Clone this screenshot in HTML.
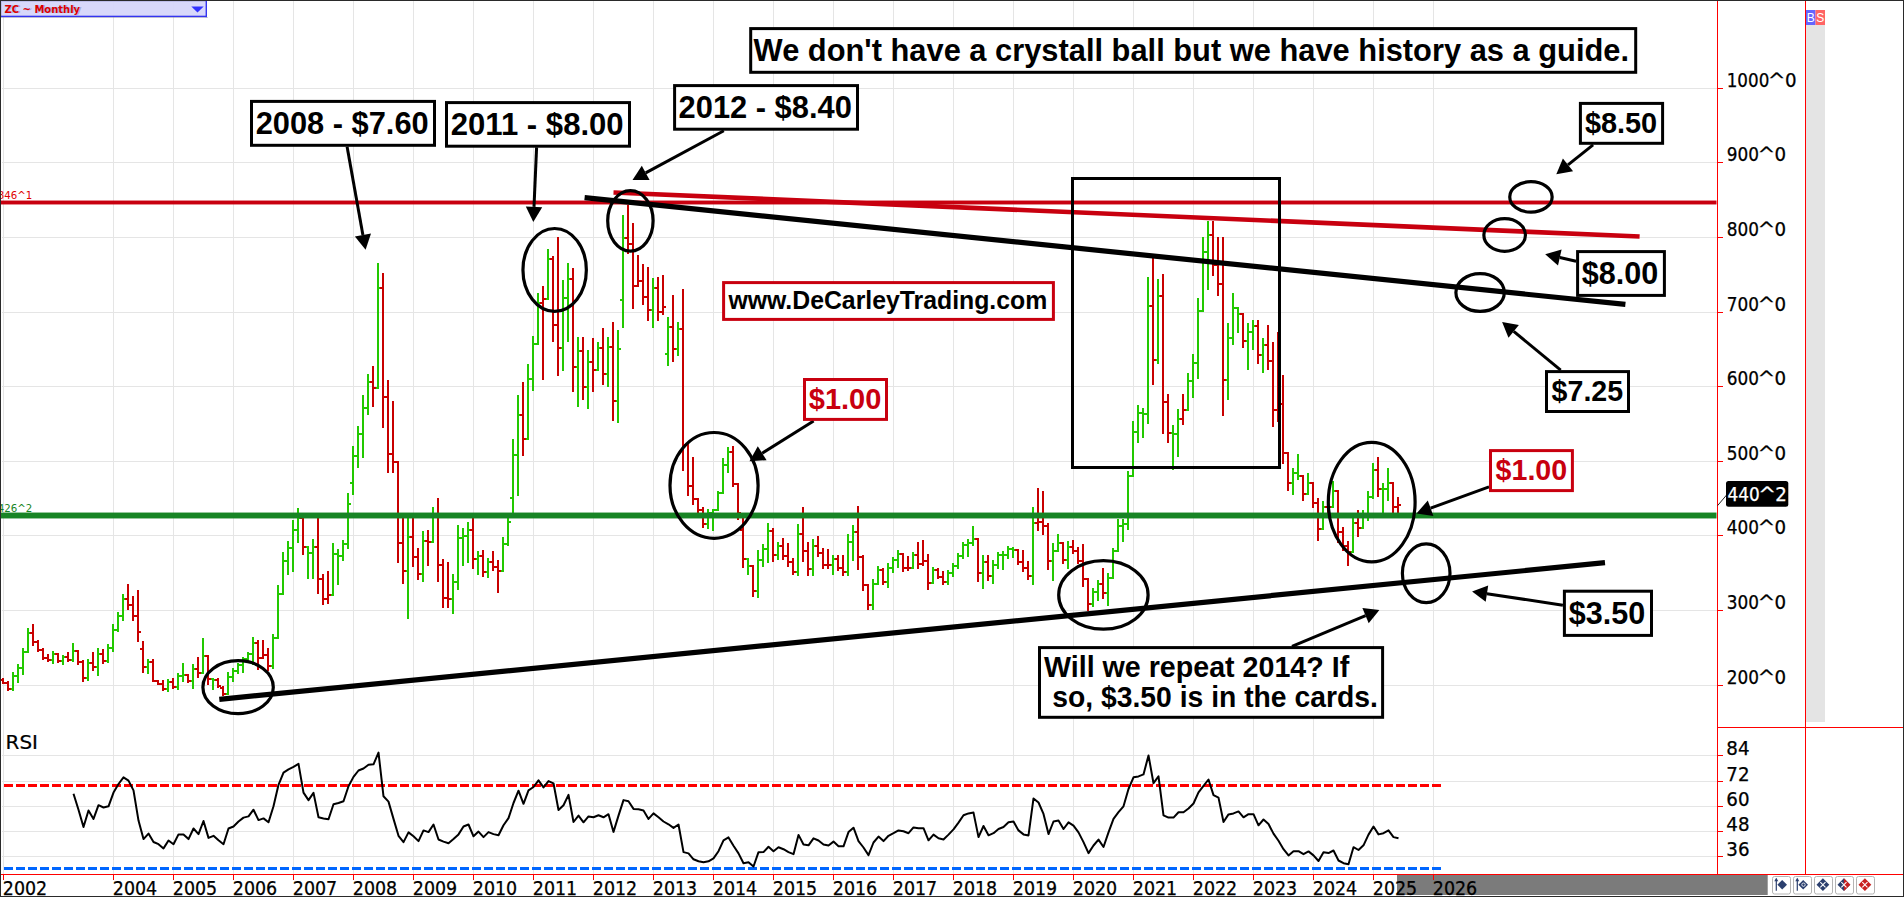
<!DOCTYPE html>
<html lang="en"><head><meta charset="utf-8"><title>ZC Monthly - Corn futures chart</title>
<style>html,body{margin:0;padding:0;background:#fff;overflow:hidden}svg{display:block}</style></head>
<body>
<svg width="1904" height="897" viewBox="0 0 1904 897">
<rect width="1904" height="897" fill="#fff"/>
<path d="M3.5 1V874 M113.5 1V874 M173.5 1V874 M233.5 1V874 M293.5 1V874 M353.5 1V874 M413.5 1V874 M473.5 1V874 M533.5 1V874 M593.5 1V874 M653.5 1V874 M713.5 1V874 M773.5 1V874 M833.5 1V874 M893.5 1V874 M953.5 1V874 M1013.5 1V874 M1073.5 1V874 M1133.5 1V874 M1193.5 1V874 M1253.5 1V874 M1313.5 1V874 M1373.5 1V874 M1433.5 1V874 M2 88.5H1717 M2 162.5H1717 M2 237.5H1717 M2 312.5H1717 M2 386.5H1717 M2 461.5H1717 M2 535.5H1717 M2 610.5H1717 M2 685.5H1717 M2 755.5H1717 M2 781.5H1717 M2 806.5H1717 M2 831.5H1717 M2 856.5H1717" stroke="#e5e5e5" stroke-width="1" fill="none" shape-rendering="crispEdges"/>
<rect x="1806" y="25" width="19" height="697" fill="#e4e4e4"/>
<rect x="1806" y="10" width="9.5" height="15" fill="#6464ff"/>
<rect x="1815.5" y="10" width="9.5" height="15" fill="#ff6464"/>
<text x="1810.7" y="22" font-family="Liberation Sans, sans-serif" font-size="12" fill="#fff" text-anchor="middle">B</text>
<text x="1820.3" y="22" font-family="Liberation Sans, sans-serif" font-size="12" fill="#fff" text-anchor="middle">S</text>
<path d="M12 672h2V691h-2zM10 688h2v2h-2zM14 675h2v2h-2zM17 664h2V683h-2zM15 675h2v2h-2zM19 667h2v2h-2zM22 648h2V675h-2zM20 667h2v2h-2zM24 651h2v2h-2zM27 628h2V653h-2zM25 651h2v2h-2zM29 632h2v2h-2zM52 651h2V664h-2zM50 659h2v2h-2zM54 653h2v2h-2zM62 655h2V665h-2zM60 660h2v2h-2zM64 656h2v2h-2zM72 643h2V662h-2zM70 659h2v2h-2zM74 650h2v2h-2zM87 659h2V681h-2zM85 677h2v2h-2zM89 662h2v2h-2zM97 648h2V676h-2zM95 666h2v2h-2zM99 653h2v2h-2zM107 644h2V663h-2zM105 660h2v2h-2zM109 647h2v2h-2zM112 624h2V652h-2zM110 647h2v2h-2zM114 629h2v2h-2zM117 612h2V632h-2zM115 629h2v2h-2zM119 615h2v2h-2zM122 594h2V621h-2zM120 615h2v2h-2zM124 598h2v2h-2zM147 659h2V674h-2zM145 666h2v2h-2zM149 661h2v2h-2zM167 679h2V692h-2zM165 688h2v2h-2zM169 681h2v2h-2zM177 673h2V690h-2zM175 686h2v2h-2zM179 675h2v2h-2zM182 663h2V682h-2zM180 675h2v2h-2zM184 674h2v2h-2zM192 664h2V689h-2zM190 680h2v2h-2zM194 668h2v2h-2zM202 638h2V674h-2zM200 672h2v2h-2zM204 655h2v2h-2zM212 678h2V690h-2zM210 678h2v2h-2zM214 679h2v2h-2zM227 672h2V695h-2zM225 693h2v2h-2zM229 676h2v2h-2zM232 668h2V682h-2zM230 676h2v2h-2zM234 670h2v2h-2zM237 663h2V674h-2zM235 670h2v2h-2zM239 664h2v2h-2zM242 657h2V673h-2zM240 664h2v2h-2zM244 658h2v2h-2zM247 652h2V660h-2zM245 658h2v2h-2zM249 653h2v2h-2zM252 637h2V665h-2zM250 653h2v2h-2zM254 642h2v2h-2zM272 634h2V669h-2zM270 665h2v2h-2zM274 637h2v2h-2zM277 585h2V639h-2zM275 637h2v2h-2zM279 593h2v2h-2zM282 552h2V595h-2zM280 593h2v2h-2zM284 560h2v2h-2zM287 541h2V575h-2zM285 560h2v2h-2zM289 547h2v2h-2zM292 520h2V572h-2zM290 547h2v2h-2zM294 529h2v2h-2zM297 508h2V543h-2zM295 529h2v2h-2zM299 517h2v2h-2zM307 546h2V579h-2zM305 546h2v2h-2zM309 552h2v2h-2zM312 539h2V579h-2zM310 552h2v2h-2zM314 546h2v2h-2zM332 543h2V596h-2zM330 594h2v2h-2zM334 553h2v2h-2zM337 549h2V585h-2zM335 553h2v2h-2zM339 555h2v2h-2zM342 540h2V561h-2zM340 555h2v2h-2zM344 543h2v2h-2zM347 493h2V549h-2zM345 543h2v2h-2zM349 503h2v2h-2zM352 446h2V495h-2zM350 482h2v2h-2zM354 455h2v2h-2zM357 426h2V468h-2zM355 455h2v2h-2zM359 433h2v2h-2zM362 395h2V458h-2zM360 433h2v2h-2zM364 407h2v2h-2zM367 374h2V415h-2zM365 407h2v2h-2zM369 381h2v2h-2zM377 263h2V389h-2zM375 387h2v2h-2zM379 287h2v2h-2zM407 517h2V619h-2zM405 570h2v2h-2zM409 536h2v2h-2zM422 531h2V582h-2zM420 573h2v2h-2zM424 540h2v2h-2zM432 507h2V543h-2zM430 541h2v2h-2zM434 513h2v2h-2zM452 574h2V614h-2zM450 598h2v2h-2zM454 581h2v2h-2zM457 525h2V590h-2zM455 581h2v2h-2zM459 537h2v2h-2zM462 528h2V566h-2zM460 537h2v2h-2zM464 535h2v2h-2zM467 522h2V563h-2zM465 535h2v2h-2zM469 529h2v2h-2zM477 551h2V575h-2zM475 558h2v2h-2zM479 555h2v2h-2zM487 558h2V578h-2zM485 571h2v2h-2zM489 561h2v2h-2zM502 537h2V572h-2zM500 570h2v2h-2zM504 543h2v2h-2zM507 516h2V546h-2zM505 543h2v2h-2zM509 521h2v2h-2zM512 439h2V517h-2zM510 497h2v2h-2zM514 454h2v2h-2zM517 395h2V496h-2zM515 454h2v2h-2zM519 414h2v2h-2zM527 364h2V440h-2zM525 438h2v2h-2zM529 378h2v2h-2zM532 336h2V391h-2zM530 378h2v2h-2zM534 343h2v2h-2zM537 293h2V345h-2zM535 343h2v2h-2zM539 302h2v2h-2zM547 249h2V300h-2zM545 298h2v2h-2zM549 258h2v2h-2zM562 280h2V371h-2zM560 347h2v2h-2zM564 297h2v2h-2zM567 263h2V342h-2zM565 297h2v2h-2zM569 278h2v2h-2zM577 337h2V407h-2zM575 366h2v2h-2zM579 350h2v2h-2zM587 350h2V409h-2zM585 386h2v2h-2zM589 361h2v2h-2zM597 342h2V371h-2zM595 369h2v2h-2zM599 347h2v2h-2zM607 337h2V387h-2zM605 373h2v2h-2zM609 346h2v2h-2zM617 330h2V423h-2zM615 400h2v2h-2zM619 348h2v2h-2zM622 215h2V328h-2zM620 299h2v2h-2zM624 237h2v2h-2zM652 278h2V328h-2zM650 309h2v2h-2zM654 287h2v2h-2zM667 317h2V366h-2zM665 353h2v2h-2zM669 326h2v2h-2zM677 322h2V356h-2zM675 348h2v2h-2zM679 328h2v2h-2zM707 509h2V529h-2zM705 523h2v2h-2zM709 512h2v2h-2zM712 509h2V531h-2zM710 512h2v2h-2zM714 509h2v2h-2zM717 491h2V511h-2zM715 509h2v2h-2zM719 492h2v2h-2zM722 458h2V494h-2zM720 492h2v2h-2zM724 464h2v2h-2zM727 447h2V473h-2zM725 464h2v2h-2zM729 451h2v2h-2zM747 558h2V575h-2zM745 558h2v2h-2zM749 565h2v2h-2zM757 550h2V598h-2zM755 590h2v2h-2zM759 559h2v2h-2zM762 544h2V567h-2zM760 559h2v2h-2zM764 548h2v2h-2zM767 523h2V563h-2zM765 548h2v2h-2zM769 530h2v2h-2zM777 542h2V560h-2zM775 554h2v2h-2zM779 545h2v2h-2zM797 524h2V576h-2zM795 571h2v2h-2zM799 533h2v2h-2zM812 539h2V576h-2zM810 568h2v2h-2zM814 545h2v2h-2zM832 555h2V575h-2zM830 564h2v2h-2zM834 558h2v2h-2zM847 534h2V576h-2zM845 571h2v2h-2zM849 541h2v2h-2zM852 525h2V561h-2zM850 541h2v2h-2zM854 531h2v2h-2zM872 579h2V610h-2zM870 604h2v2h-2zM874 583h2v2h-2zM877 566h2V585h-2zM875 583h2v2h-2zM879 569h2v2h-2zM887 563h2V588h-2zM885 581h2v2h-2zM889 567h2v2h-2zM892 557h2V573h-2zM890 567h2v2h-2zM894 559h2v2h-2zM897 550h2V568h-2zM895 559h2v2h-2zM899 553h2v2h-2zM912 552h2V569h-2zM910 567h2v2h-2zM914 554h2v2h-2zM932 567h2V584h-2zM930 582h2v2h-2zM934 569h2v2h-2zM947 570h2V585h-2zM945 581h2v2h-2zM949 572h2v2h-2zM952 563h2V577h-2zM950 572h2v2h-2zM954 565h2v2h-2zM957 553h2V569h-2zM955 565h2v2h-2zM959 555h2v2h-2zM962 542h2V559h-2zM960 555h2v2h-2zM964 544h2v2h-2zM967 539h2V557h-2zM965 544h2v2h-2zM969 542h2v2h-2zM972 526h2V546h-2zM970 542h2v2h-2zM974 538h2v2h-2zM982 555h2V589h-2zM980 572h2v2h-2zM984 561h2v2h-2zM992 560h2V584h-2zM990 575h2v2h-2zM994 564h2v2h-2zM997 552h2V569h-2zM995 564h2v2h-2zM999 554h2v2h-2zM1002 551h2V570h-2zM1000 554h2v2h-2zM1004 554h2v2h-2zM1007 546h2V559h-2zM1005 554h2v2h-2zM1009 548h2v2h-2zM1012 547h2V558h-2zM1010 548h2v2h-2zM1014 549h2v2h-2zM1032 507h2V585h-2zM1030 575h2v2h-2zM1034 522h2v2h-2zM1052 543h2V581h-2zM1050 560h2v2h-2zM1054 550h2v2h-2zM1057 534h2V552h-2zM1055 550h2v2h-2zM1059 542h2v2h-2zM1067 541h2V569h-2zM1065 559h2v2h-2zM1069 546h2v2h-2zM1092 588h2V607h-2zM1090 603h2v2h-2zM1094 591h2v2h-2zM1097 580h2V601h-2zM1095 591h2v2h-2zM1099 583h2v2h-2zM1107 573h2V606h-2zM1105 592h2v2h-2zM1109 577h2v2h-2zM1112 548h2V579h-2zM1110 577h2v2h-2zM1114 550h2v2h-2zM1117 519h2V552h-2zM1115 550h2v2h-2zM1119 525h2v2h-2zM1122 519h2V542h-2zM1120 525h2v2h-2zM1124 523h2v2h-2zM1127 471h2V530h-2zM1125 523h2v2h-2zM1129 475h2v2h-2zM1132 421h2V477h-2zM1130 475h2v2h-2zM1134 431h2v2h-2zM1137 405h2V443h-2zM1135 431h2v2h-2zM1139 412h2v2h-2zM1142 408h2V438h-2zM1140 412h2v2h-2zM1144 413h2v2h-2zM1147 277h2V424h-2zM1145 413h2v2h-2zM1149 305h2v2h-2zM1157 279h2V364h-2zM1155 359h2v2h-2zM1159 295h2v2h-2zM1172 425h2V470h-2zM1170 432h2v2h-2zM1174 433h2v2h-2zM1177 409h2V457h-2zM1175 433h2v2h-2zM1179 418h2v2h-2zM1187 373h2V411h-2zM1185 409h2v2h-2zM1189 380h2v2h-2zM1192 354h2V398h-2zM1190 380h2v2h-2zM1194 362h2v2h-2zM1197 298h2V379h-2zM1195 362h2v2h-2zM1199 310h2v2h-2zM1202 237h2V312h-2zM1200 310h2v2h-2zM1204 251h2v2h-2zM1207 221h2V290h-2zM1205 251h2v2h-2zM1209 234h2v2h-2zM1227 323h2V400h-2zM1225 379h2v2h-2zM1229 337h2v2h-2zM1232 293h2V345h-2zM1230 337h2v2h-2zM1234 307h2v2h-2zM1237 307h2V333h-2zM1235 307h2v2h-2zM1239 313h2v2h-2zM1247 323h2V370h-2zM1245 340h2v2h-2zM1249 331h2v2h-2zM1252 320h2V350h-2zM1250 331h2v2h-2zM1254 325h2v2h-2zM1262 338h2V373h-2zM1260 354h2v2h-2zM1264 344h2v2h-2zM1292 468h2V495h-2zM1290 482h2v2h-2zM1294 472h2v2h-2zM1297 454h2V480h-2zM1295 472h2v2h-2zM1299 475h2v2h-2zM1307 473h2V495h-2zM1305 493h2v2h-2zM1309 482h2v2h-2zM1322 501h2V530h-2zM1320 528h2v2h-2zM1324 506h2v2h-2zM1332 481h2V508h-2zM1330 506h2v2h-2zM1334 490h2v2h-2zM1352 515h2V553h-2zM1350 551h2v2h-2zM1354 522h2v2h-2zM1362 510h2V529h-2zM1360 527h2v2h-2zM1364 513h2v2h-2zM1367 491h2V521h-2zM1365 513h2v2h-2zM1369 496h2v2h-2zM1372 463h2V499h-2zM1370 496h2v2h-2zM1374 469h2v2h-2zM1382 483h2V513h-2zM1380 488h2v2h-2zM1384 488h2v2h-2zM1387 468h2V501h-2zM1385 488h2v2h-2zM1389 482h2v2h-2z" fill="#22c800" shape-rendering="crispEdges"/>
<path d="M2 678h2V684h-2zM0 679h2v2h-2zM4 682h2v2h-2zM7 681h2V691h-2zM5 682h2v2h-2zM9 688h2v2h-2zM32 624h2V646h-2zM30 632h2v2h-2zM34 641h2v2h-2zM37 640h2V652h-2zM35 641h2v2h-2zM39 649h2v2h-2zM42 648h2V660h-2zM40 649h2v2h-2zM44 657h2v2h-2zM47 654h2V662h-2zM45 657h2v2h-2zM49 659h2v2h-2zM57 653h2V663h-2zM55 653h2v2h-2zM59 660h2v2h-2zM67 652h2V662h-2zM65 656h2v2h-2zM69 659h2v2h-2zM77 650h2V665h-2zM75 650h2v2h-2zM79 661h2v2h-2zM82 660h2V682h-2zM80 661h2v2h-2zM84 677h2v2h-2zM92 652h2V671h-2zM90 662h2v2h-2zM94 666h2v2h-2zM102 649h2V664h-2zM100 653h2v2h-2zM104 660h2v2h-2zM127 584h2V610h-2zM125 598h2v2h-2zM129 604h2v2h-2zM132 596h2V621h-2zM130 604h2v2h-2zM134 615h2v2h-2zM137 590h2V642h-2zM135 615h2v2h-2zM139 631h2v2h-2zM142 641h2V673h-2zM140 648h2v2h-2zM144 666h2v2h-2zM152 659h2V682h-2zM150 661h2v2h-2zM154 680h2v2h-2zM157 680h2V685h-2zM155 680h2v2h-2zM159 683h2v2h-2zM162 680h2V691h-2zM160 683h2v2h-2zM164 688h2v2h-2zM172 678h2V689h-2zM170 681h2v2h-2zM174 686h2v2h-2zM187 674h2V683h-2zM185 674h2v2h-2zM189 680h2v2h-2zM197 657h2V678h-2zM195 668h2v2h-2zM199 672h2v2h-2zM207 655h2V685h-2zM205 655h2v2h-2zM209 678h2v2h-2zM217 678h2V688h-2zM215 679h2v2h-2zM219 685h2v2h-2zM222 686h2V696h-2zM220 687h2v2h-2zM224 693h2v2h-2zM257 640h2V670h-2zM255 642h2v2h-2zM259 657h2v2h-2zM262 640h2V659h-2zM260 657h2v2h-2zM264 654h2v2h-2zM267 648h2V671h-2zM265 654h2v2h-2zM269 665h2v2h-2zM302 517h2V555h-2zM300 517h2v2h-2zM304 546h2v2h-2zM317 517h2V594h-2zM315 546h2v2h-2zM319 578h2v2h-2zM322 574h2V605h-2zM320 578h2v2h-2zM324 598h2v2h-2zM327 571h2V604h-2zM325 598h2v2h-2zM329 594h2v2h-2zM372 366h2V407h-2zM370 381h2v2h-2zM374 387h2v2h-2zM382 273h2V428h-2zM380 287h2v2h-2zM384 396h2v2h-2zM387 380h2V473h-2zM385 396h2v2h-2zM389 453h2v2h-2zM392 401h2V473h-2zM390 453h2v2h-2zM394 461h2v2h-2zM397 461h2V563h-2zM395 461h2v2h-2zM399 542h2v2h-2zM402 518h2V584h-2zM400 542h2v2h-2zM404 570h2v2h-2zM412 517h2V567h-2zM410 536h2v2h-2zM414 556h2v2h-2zM417 548h2V580h-2zM415 556h2v2h-2zM419 573h2v2h-2zM427 530h2V566h-2zM425 540h2v2h-2zM429 541h2v2h-2zM437 498h2V582h-2zM435 513h2v2h-2zM439 564h2v2h-2zM442 559h2V608h-2zM440 564h2v2h-2zM444 597h2v2h-2zM447 562h2V608h-2zM445 597h2v2h-2zM449 598h2v2h-2zM472 518h2V569h-2zM470 529h2v2h-2zM474 558h2v2h-2zM482 550h2V577h-2zM480 555h2v2h-2zM484 571h2v2h-2zM492 551h2V571h-2zM490 561h2v2h-2zM494 566h2v2h-2zM497 560h2V593h-2zM495 566h2v2h-2zM499 570h2v2h-2zM522 382h2V456h-2zM520 414h2v2h-2zM524 438h2v2h-2zM542 286h2V380h-2zM540 302h2v2h-2zM544 298h2v2h-2zM552 256h2V342h-2zM550 258h2v2h-2zM554 324h2v2h-2zM557 237h2V376h-2zM555 324h2v2h-2zM559 347h2v2h-2zM572 268h2V392h-2zM570 278h2v2h-2zM574 366h2v2h-2zM582 337h2V400h-2zM580 350h2v2h-2zM584 386h2v2h-2zM592 338h2V392h-2zM590 361h2v2h-2zM594 369h2v2h-2zM602 328h2V385h-2zM600 347h2v2h-2zM604 373h2v2h-2zM612 322h2V421h-2zM610 346h2v2h-2zM614 400h2v2h-2zM627 205h2V254h-2zM625 237h2v2h-2zM629 243h2v2h-2zM632 223h2V309h-2zM630 243h2v2h-2zM634 285h2v2h-2zM637 255h2V287h-2zM635 285h2v2h-2zM639 280h2v2h-2zM642 264h2V305h-2zM640 280h2v2h-2zM644 296h2v2h-2zM647 267h2V321h-2zM645 296h2v2h-2zM649 309h2v2h-2zM657 277h2V321h-2zM655 287h2v2h-2zM659 311h2v2h-2zM662 275h2V315h-2zM660 311h2v2h-2zM664 306h2v2h-2zM672 295h2V362h-2zM670 326h2v2h-2zM674 348h2v2h-2zM682 289h2V471h-2zM680 328h2v2h-2zM684 444h2v2h-2zM687 444h2V496h-2zM685 444h2v2h-2zM689 485h2v2h-2zM692 457h2V505h-2zM690 485h2v2h-2zM694 498h2v2h-2zM697 498h2V513h-2zM695 498h2v2h-2zM699 509h2v2h-2zM702 507h2V528h-2zM700 509h2v2h-2zM704 523h2v2h-2zM732 446h2V487h-2zM730 451h2v2h-2zM734 483h2v2h-2zM737 483h2V520h-2zM735 483h2v2h-2zM739 512h2v2h-2zM742 518h2V568h-2zM740 529h2v2h-2zM744 558h2v2h-2zM752 565h2V597h-2zM750 565h2v2h-2zM754 590h2v2h-2zM772 528h2V562h-2zM770 530h2v2h-2zM774 554h2v2h-2zM782 538h2V560h-2zM780 545h2v2h-2zM784 555h2v2h-2zM787 543h2V567h-2zM785 555h2v2h-2zM789 561h2v2h-2zM792 558h2V575h-2zM790 561h2v2h-2zM794 571h2v2h-2zM802 507h2V562h-2zM800 533h2v2h-2zM804 550h2v2h-2zM807 542h2V576h-2zM805 550h2v2h-2zM809 568h2v2h-2zM817 536h2V557h-2zM815 545h2v2h-2zM819 552h2v2h-2zM822 548h2V569h-2zM820 552h2v2h-2zM824 564h2v2h-2zM827 549h2V569h-2zM825 564h2v2h-2zM829 564h2v2h-2zM837 555h2V571h-2zM835 558h2v2h-2zM839 567h2v2h-2zM842 555h2V576h-2zM840 567h2v2h-2zM844 571h2v2h-2zM857 506h2V570h-2zM855 531h2v2h-2zM859 556h2v2h-2zM862 555h2V591h-2zM860 556h2v2h-2zM864 584h2v2h-2zM867 584h2V610h-2zM865 584h2v2h-2zM869 604h2v2h-2zM882 568h2V585h-2zM880 569h2v2h-2zM884 581h2v2h-2zM902 553h2V572h-2zM900 553h2v2h-2zM904 567h2v2h-2zM907 556h2V571h-2zM905 567h2v2h-2zM909 567h2v2h-2zM917 542h2V569h-2zM915 554h2v2h-2zM919 563h2v2h-2zM922 540h2V566h-2zM920 563h2v2h-2zM924 560h2v2h-2zM927 554h2V590h-2zM925 560h2v2h-2zM929 582h2v2h-2zM937 568h2V579h-2zM935 569h2v2h-2zM939 576h2v2h-2zM942 571h2V585h-2zM940 576h2v2h-2zM944 581h2v2h-2zM977 538h2V582h-2zM975 538h2v2h-2zM979 572h2v2h-2zM987 555h2V581h-2zM985 561h2v2h-2zM989 575h2v2h-2zM1017 549h2V565h-2zM1015 549h2v2h-2zM1019 561h2v2h-2zM1022 550h2V572h-2zM1020 561h2v2h-2zM1024 567h2v2h-2zM1027 561h2V580h-2zM1025 567h2v2h-2zM1029 575h2v2h-2zM1037 488h2V531h-2zM1035 522h2v2h-2zM1039 521h2v2h-2zM1042 491h2V535h-2zM1040 521h2v2h-2zM1044 525h2v2h-2zM1047 523h2V570h-2zM1045 525h2v2h-2zM1049 560h2v2h-2zM1062 542h2V564h-2zM1060 542h2v2h-2zM1064 559h2v2h-2zM1072 540h2V554h-2zM1070 546h2v2h-2zM1074 550h2v2h-2zM1077 547h2V564h-2zM1075 550h2v2h-2zM1079 560h2v2h-2zM1082 544h2V587h-2zM1080 560h2v2h-2zM1084 578h2v2h-2zM1087 578h2V611h-2zM1085 578h2v2h-2zM1089 603h2v2h-2zM1102 568h2V599h-2zM1100 583h2v2h-2zM1104 592h2v2h-2zM1152 258h2V385h-2zM1150 305h2v2h-2zM1154 359h2v2h-2zM1162 274h2V434h-2zM1160 295h2v2h-2zM1164 401h2v2h-2zM1167 394h2V443h-2zM1165 401h2v2h-2zM1169 432h2v2h-2zM1182 394h2V425h-2zM1180 418h2v2h-2zM1184 409h2v2h-2zM1212 221h2V276h-2zM1210 234h2v2h-2zM1214 264h2v2h-2zM1217 237h2V296h-2zM1215 264h2v2h-2zM1219 283h2v2h-2zM1222 237h2V416h-2zM1220 283h2v2h-2zM1224 379h2v2h-2zM1242 313h2V348h-2zM1240 313h2v2h-2zM1244 340h2v2h-2zM1257 320h2V364h-2zM1255 325h2v2h-2zM1259 354h2v2h-2zM1267 325h2V370h-2zM1265 344h2v2h-2zM1269 360h2v2h-2zM1272 342h2V427h-2zM1270 360h2v2h-2zM1274 409h2v2h-2zM1277 332h2V422h-2zM1275 409h2v2h-2zM1279 403h2v2h-2zM1282 375h2V464h-2zM1280 403h2v2h-2zM1284 452h2v2h-2zM1287 452h2V491h-2zM1285 452h2v2h-2zM1289 482h2v2h-2zM1302 475h2V501h-2zM1300 475h2v2h-2zM1304 493h2v2h-2zM1312 482h2V508h-2zM1310 482h2v2h-2zM1314 502h2v2h-2zM1317 498h2V541h-2zM1315 502h2v2h-2zM1319 528h2v2h-2zM1327 503h2V515h-2zM1325 506h2v2h-2zM1329 506h2v2h-2zM1337 490h2V543h-2zM1335 490h2v2h-2zM1339 531h2v2h-2zM1342 527h2V551h-2zM1340 531h2v2h-2zM1344 545h2v2h-2zM1347 541h2V566h-2zM1345 545h2v2h-2zM1349 551h2v2h-2zM1357 510h2V537h-2zM1355 522h2v2h-2zM1359 527h2v2h-2zM1377 457h2V497h-2zM1375 469h2v2h-2zM1379 488h2v2h-2zM1392 482h2V513h-2zM1390 482h2v2h-2zM1394 506h2v2h-2zM1397 497h2V513h-2zM1395 506h2v2h-2zM1399 504h2v2h-2z" fill="#c80000" shape-rendering="crispEdges"/>
<rect x="0" y="200.55" width="1716.5" height="3.9" fill="#c8000f"/>
<rect x="0" y="512.55" width="1716.5" height="5.9" fill="#178424"/>
<text x="-2.3" y="198.9" font-family="DejaVu Sans Condensed, DejaVu Sans, sans-serif" font-size="10.8" fill="#e00000" textLength="34.5" lengthAdjust="spacingAndGlyphs">846^1</text>
<text x="-2.3" y="511.9" font-family="DejaVu Sans Condensed, DejaVu Sans, sans-serif" font-size="10.8" fill="#168422" textLength="34.5" lengthAdjust="spacingAndGlyphs">426^2</text>
<line x1="613.5" y1="192.5" x2="1639.6" y2="236.5" stroke="#c8000f" stroke-width="4.7"/>
<line x1="584.6" y1="197.7" x2="1625.4" y2="304.4" stroke="#000" stroke-width="5.2"/>
<line x1="219.3" y1="699.3" x2="1605" y2="562.7" stroke="#000" stroke-width="5.2"/>
<rect x="1072.5" y="178.5" width="207" height="289" fill="none" stroke="#000" stroke-width="3"/>
<ellipse cx="238.1" cy="687.2" rx="35.2" ry="26.5" fill="none" stroke="#000" stroke-width="3.2"/>
<ellipse cx="554.65" cy="269.9" rx="31.7" ry="41.4" fill="none" stroke="#000" stroke-width="3.2"/>
<ellipse cx="630.4" cy="220.85" rx="22.7" ry="30.3" fill="none" stroke="#000" stroke-width="3.2"/>
<ellipse cx="714.05" cy="485.4" rx="44.05" ry="52.9" fill="none" stroke="#000" stroke-width="3.2"/>
<ellipse cx="1103.4" cy="594.9" rx="44.7" ry="34.3" fill="none" stroke="#000" stroke-width="3.2"/>
<ellipse cx="1371.7" cy="502.1" rx="43.4" ry="59.8" fill="none" stroke="#000" stroke-width="3.2"/>
<ellipse cx="1426.2" cy="573.3" rx="23.8" ry="29.4" fill="none" stroke="#000" stroke-width="3.2"/>
<ellipse cx="1530.95" cy="196.9" rx="21.2" ry="15.2" fill="none" stroke="#000" stroke-width="3.2"/>
<ellipse cx="1504.65" cy="235" rx="20.8" ry="16.3" fill="none" stroke="#000" stroke-width="3.2"/>
<ellipse cx="1480.1" cy="292.5" rx="24.2" ry="18.9" fill="none" stroke="#000" stroke-width="3.2"/>
<line x1="347.1" y1="146.7" x2="362.9" y2="234.9" stroke="#000" stroke-width="3"/>
<polygon points="365.6,249.7 354.9,236.4 371.0,233.5" fill="#000"/>
<line x1="536.6" y1="147.4" x2="534.0" y2="206.9" stroke="#000" stroke-width="3"/>
<polygon points="533.3,221.9 525.8,206.6 542.2,207.3" fill="#000"/>
<line x1="723.8" y1="130.8" x2="645.7" y2="172.9" stroke="#000" stroke-width="3"/>
<polygon points="632.5,180.0 641.8,165.7 649.6,180.1" fill="#000"/>
<line x1="813.6" y1="420.9" x2="762.2" y2="453.2" stroke="#000" stroke-width="3"/>
<polygon points="749.5,461.2 757.8,446.3 766.6,460.2" fill="#000"/>
<line x1="1489.0" y1="486.8" x2="1430.6" y2="508.2" stroke="#000" stroke-width="3"/>
<polygon points="1416.5,513.4 1427.8,500.5 1433.4,515.9" fill="#000"/>
<line x1="1292.0" y1="646.4" x2="1365.6" y2="615.7" stroke="#000" stroke-width="3"/>
<polygon points="1379.4,609.9 1368.7,623.2 1362.4,608.1" fill="#000"/>
<line x1="1562.9" y1="605.2" x2="1486.9" y2="593.7" stroke="#000" stroke-width="3"/>
<polygon points="1472.1,591.5 1488.2,585.6 1485.7,601.8" fill="#000"/>
<line x1="1593.1" y1="144.8" x2="1568.0" y2="164.8" stroke="#000" stroke-width="3"/>
<polygon points="1556.3,174.2 1562.9,158.4 1573.1,171.2" fill="#000"/>
<line x1="1576.1" y1="261.2" x2="1559.8" y2="257.5" stroke="#000" stroke-width="3"/>
<polygon points="1545.2,254.2 1561.6,249.5 1558.0,265.5" fill="#000"/>
<line x1="1560.7" y1="370.1" x2="1513.7" y2="331.4" stroke="#000" stroke-width="3"/>
<polygon points="1502.1,321.9 1518.9,325.1 1508.5,337.8" fill="#000"/>
<rect x="251.50" y="101.40" width="183.00" height="43.90" fill="#fff" stroke="#000" stroke-width="3"/>
<text x="255.70" y="134.1" font-family="Liberation Sans, Arial, sans-serif" font-weight="bold" font-size="31.44" fill="#000" textLength="172.99" lengthAdjust="spacingAndGlyphs">2008 - $7.60</text>
<rect x="446.50" y="102.60" width="183.00" height="43.60" fill="#fff" stroke="#000" stroke-width="3"/>
<text x="450.70" y="135.1" font-family="Liberation Sans, Arial, sans-serif" font-weight="bold" font-size="31.44" fill="#000" textLength="172.99" lengthAdjust="spacingAndGlyphs">2011 - $8.00</text>
<rect x="674.60" y="85.60" width="182.90" height="43.60" fill="#fff" stroke="#000" stroke-width="3"/>
<text x="678.60" y="118.1" font-family="Liberation Sans, Arial, sans-serif" font-weight="bold" font-size="31.44" fill="#000" textLength="173.20" lengthAdjust="spacingAndGlyphs">2012 - $8.40</text>
<rect x="750.70" y="28.60" width="885.00" height="43.70" fill="#fff" stroke="#000" stroke-width="3"/>
<text x="753.60" y="61.0" font-family="Liberation Sans, Arial, sans-serif" font-weight="bold" font-size="31.44" fill="#000" textLength="875.40" lengthAdjust="spacingAndGlyphs">We don't have a crystall ball but we have history as a guide.</text>
<rect x="723.60" y="282.60" width="329.80" height="36.80" fill="#fff" stroke="#c8000f" stroke-width="3"/>
<text x="728.40" y="309.1" font-family="Liberation Sans, Arial, sans-serif" font-weight="bold" font-size="25.62" fill="#000" textLength="318.89" lengthAdjust="spacingAndGlyphs">www.DeCarleyTrading.com</text>
<rect x="804.50" y="379.50" width="82.00" height="39.90" fill="#fff" stroke="#c8000f" stroke-width="3"/>
<text x="808.79" y="409.0" font-family="Liberation Sans, Arial, sans-serif" font-weight="bold" font-size="28.70" fill="#c8000f" textLength="72.60" lengthAdjust="spacingAndGlyphs">$1.00</text>
<rect x="1490.50" y="450.60" width="81.90" height="40.00" fill="#fff" stroke="#c8000f" stroke-width="3"/>
<text x="1495.61" y="480.1" font-family="Liberation Sans, Arial, sans-serif" font-weight="bold" font-size="28.70" fill="#c8000f" textLength="71.58" lengthAdjust="spacingAndGlyphs">$1.00</text>
<rect x="1580.40" y="103.40" width="82.20" height="39.90" fill="#fff" stroke="#000" stroke-width="3"/>
<text x="1584.90" y="133.1" font-family="Liberation Sans, Arial, sans-serif" font-weight="bold" font-size="28.70" fill="#000" textLength="72.31" lengthAdjust="spacingAndGlyphs">$8.50</text>
<rect x="1577.60" y="251.60" width="86.80" height="43.80" fill="#fff" stroke="#000" stroke-width="3"/>
<text x="1581.80" y="283.9" font-family="Liberation Sans, Arial, sans-serif" font-weight="bold" font-size="31.44" fill="#000" textLength="76.48" lengthAdjust="spacingAndGlyphs">$8.00</text>
<rect x="1546.50" y="371.60" width="82.00" height="39.90" fill="#fff" stroke="#000" stroke-width="3"/>
<text x="1551.61" y="401.4" font-family="Liberation Sans, Arial, sans-serif" font-weight="bold" font-size="28.70" fill="#000" textLength="71.49" lengthAdjust="spacingAndGlyphs">$7.25</text>
<rect x="1564.40" y="591.20" width="87.10" height="44.20" fill="#fff" stroke="#000" stroke-width="3"/>
<text x="1568.71" y="624.1" font-family="Liberation Sans, Arial, sans-serif" font-weight="bold" font-size="31.44" fill="#000" textLength="76.48" lengthAdjust="spacingAndGlyphs">$3.50</text>
<rect x="1039.50" y="647.60" width="343.10" height="69.70" fill="#fff" stroke="#000" stroke-width="3"/>
<text x="1044.00" y="676.8" font-family="Liberation Sans, Arial, sans-serif" font-weight="bold" font-size="28.70" fill="#000" textLength="305.21" lengthAdjust="spacingAndGlyphs">Will we repeat 2014? If</text>
<text x="1052.30" y="706.5" font-family="Liberation Sans, Arial, sans-serif" font-weight="bold" font-size="28.70" fill="#000" textLength="325.51" lengthAdjust="spacingAndGlyphs">so, $3.50 is in the cards.</text>
<path d="M1717.5 1V874 M1805.5 1V874 M1717 727.5H1903 M0 874.5H1903" stroke="#ff0000" stroke-width="1" fill="none" shape-rendering="crispEdges"/>
<path d="M1717 88.5h6 M1717 162.5h6 M1717 237.5h6 M1717 312.5h6 M1717 386.5h6 M1717 461.5h6 M1717 535.5h6 M1717 610.5h6 M1717 685.5h6 M1717 755.5h6 M1717 781.5h6 M1717 806.5h6 M1717 831.5h6 M1717 856.5h6" stroke="#ff0000" stroke-width="1" fill="none" shape-rendering="crispEdges"/>
<text y="87.4" font-family="DejaVu Sans Condensed, DejaVu Sans, sans-serif" font-size="19" fill="#000" stroke="#000" stroke-width="0.25" lengthAdjust="spacingAndGlyphs"><tspan x="1726.70" textLength="42.60" lengthAdjust="spacingAndGlyphs">1000</tspan><tspan x="1767.80" textLength="17.8" lengthAdjust="spacingAndGlyphs">^</tspan><tspan x="1784.90" textLength="11.6" lengthAdjust="spacingAndGlyphs">0</tspan></text>
<text y="161.4" font-family="DejaVu Sans Condensed, DejaVu Sans, sans-serif" font-size="19" fill="#000" stroke="#000" stroke-width="0.25" lengthAdjust="spacingAndGlyphs"><tspan x="1726.70" textLength="32.25" lengthAdjust="spacingAndGlyphs">900</tspan><tspan x="1757.45" textLength="17.8" lengthAdjust="spacingAndGlyphs">^</tspan><tspan x="1774.55" textLength="11.6" lengthAdjust="spacingAndGlyphs">0</tspan></text>
<text y="236.4" font-family="DejaVu Sans Condensed, DejaVu Sans, sans-serif" font-size="19" fill="#000" stroke="#000" stroke-width="0.25" lengthAdjust="spacingAndGlyphs"><tspan x="1726.70" textLength="32.25" lengthAdjust="spacingAndGlyphs">800</tspan><tspan x="1757.45" textLength="17.8" lengthAdjust="spacingAndGlyphs">^</tspan><tspan x="1774.55" textLength="11.6" lengthAdjust="spacingAndGlyphs">0</tspan></text>
<text y="311.4" font-family="DejaVu Sans Condensed, DejaVu Sans, sans-serif" font-size="19" fill="#000" stroke="#000" stroke-width="0.25" lengthAdjust="spacingAndGlyphs"><tspan x="1726.70" textLength="32.25" lengthAdjust="spacingAndGlyphs">700</tspan><tspan x="1757.45" textLength="17.8" lengthAdjust="spacingAndGlyphs">^</tspan><tspan x="1774.55" textLength="11.6" lengthAdjust="spacingAndGlyphs">0</tspan></text>
<text y="385.4" font-family="DejaVu Sans Condensed, DejaVu Sans, sans-serif" font-size="19" fill="#000" stroke="#000" stroke-width="0.25" lengthAdjust="spacingAndGlyphs"><tspan x="1726.70" textLength="32.25" lengthAdjust="spacingAndGlyphs">600</tspan><tspan x="1757.45" textLength="17.8" lengthAdjust="spacingAndGlyphs">^</tspan><tspan x="1774.55" textLength="11.6" lengthAdjust="spacingAndGlyphs">0</tspan></text>
<text y="460.4" font-family="DejaVu Sans Condensed, DejaVu Sans, sans-serif" font-size="19" fill="#000" stroke="#000" stroke-width="0.25" lengthAdjust="spacingAndGlyphs"><tspan x="1726.70" textLength="32.25" lengthAdjust="spacingAndGlyphs">500</tspan><tspan x="1757.45" textLength="17.8" lengthAdjust="spacingAndGlyphs">^</tspan><tspan x="1774.55" textLength="11.6" lengthAdjust="spacingAndGlyphs">0</tspan></text>
<text y="534.4" font-family="DejaVu Sans Condensed, DejaVu Sans, sans-serif" font-size="19" fill="#000" stroke="#000" stroke-width="0.25" lengthAdjust="spacingAndGlyphs"><tspan x="1726.70" textLength="32.25" lengthAdjust="spacingAndGlyphs">400</tspan><tspan x="1757.45" textLength="17.8" lengthAdjust="spacingAndGlyphs">^</tspan><tspan x="1774.55" textLength="11.6" lengthAdjust="spacingAndGlyphs">0</tspan></text>
<text y="609.4" font-family="DejaVu Sans Condensed, DejaVu Sans, sans-serif" font-size="19" fill="#000" stroke="#000" stroke-width="0.25" lengthAdjust="spacingAndGlyphs"><tspan x="1726.70" textLength="32.25" lengthAdjust="spacingAndGlyphs">300</tspan><tspan x="1757.45" textLength="17.8" lengthAdjust="spacingAndGlyphs">^</tspan><tspan x="1774.55" textLength="11.6" lengthAdjust="spacingAndGlyphs">0</tspan></text>
<text y="684.4" font-family="DejaVu Sans Condensed, DejaVu Sans, sans-serif" font-size="19" fill="#000" stroke="#000" stroke-width="0.25" lengthAdjust="spacingAndGlyphs"><tspan x="1726.70" textLength="32.25" lengthAdjust="spacingAndGlyphs">200</tspan><tspan x="1757.45" textLength="17.8" lengthAdjust="spacingAndGlyphs">^</tspan><tspan x="1774.55" textLength="11.6" lengthAdjust="spacingAndGlyphs">0</tspan></text>
<text x="1726.3" y="754.7" font-family="DejaVu Sans Condensed, DejaVu Sans, sans-serif" font-size="19" fill="#000" stroke="#000" stroke-width="0.25" textLength="23.2" lengthAdjust="spacingAndGlyphs">84</text>
<text x="1726.3" y="780.7" font-family="DejaVu Sans Condensed, DejaVu Sans, sans-serif" font-size="19" fill="#000" stroke="#000" stroke-width="0.25" textLength="23.2" lengthAdjust="spacingAndGlyphs">72</text>
<text x="1726.3" y="805.7" font-family="DejaVu Sans Condensed, DejaVu Sans, sans-serif" font-size="19" fill="#000" stroke="#000" stroke-width="0.25" textLength="23.2" lengthAdjust="spacingAndGlyphs">60</text>
<text x="1726.3" y="830.7" font-family="DejaVu Sans Condensed, DejaVu Sans, sans-serif" font-size="19" fill="#000" stroke="#000" stroke-width="0.25" textLength="23.2" lengthAdjust="spacingAndGlyphs">48</text>
<text x="1726.3" y="855.7" font-family="DejaVu Sans Condensed, DejaVu Sans, sans-serif" font-size="19" fill="#000" stroke="#000" stroke-width="0.25" textLength="23.2" lengthAdjust="spacingAndGlyphs">36</text>
<line x1="1717.5" y1="505.7" x2="1727" y2="494.5" stroke="#222" stroke-width="1"/>
<rect x="1726" y="481" width="62.3" height="25.8" rx="2.5" fill="#000"/>
<text y="501.2" font-family="DejaVu Sans Condensed, DejaVu Sans, sans-serif" font-size="19" fill="#fff" stroke="#fff" stroke-width="0.25" lengthAdjust="spacingAndGlyphs"><tspan x="1727.50" textLength="32.25" lengthAdjust="spacingAndGlyphs">440</tspan><tspan x="1758.25" textLength="17.8" lengthAdjust="spacingAndGlyphs">^</tspan><tspan x="1775.35" textLength="11.6" lengthAdjust="spacingAndGlyphs">2</tspan></text>
<text x="5.6" y="748.6" font-family="DejaVu Sans Condensed, DejaVu Sans, sans-serif" font-size="19" fill="#000" stroke="#000" stroke-width="0.2" textLength="32.4" lengthAdjust="spacingAndGlyphs">RSI</text>
<line x1="3.5" y1="785.5" x2="1441" y2="785.5" stroke="#ff0000" stroke-width="3" stroke-dasharray="9 3" shape-rendering="crispEdges"/>
<line x1="3.5" y1="868.5" x2="1441" y2="868.5" stroke="#0066ff" stroke-width="3" stroke-dasharray="9 3" shape-rendering="crispEdges"/>
<polyline points="73.5,793.7 78.5,809.7 83.5,827.0 88.5,810.5 93.5,818.9 98.5,805.2 103.5,807.5 108.5,806.3 113.5,792.6 118.5,784.0 123.5,777.3 128.5,780.6 133.5,790.4 138.5,820.6 143.5,839.1 148.5,833.6 153.5,842.0 158.5,844.2 163.5,848.4 168.5,840.5 173.5,844.2 178.5,834.4 183.5,834.4 188.5,839.1 193.5,828.5 198.5,834.1 203.5,821.0 208.5,837.9 213.5,835.8 218.5,840.3 223.5,844.2 228.5,828.5 233.5,826.5 238.5,821.5 243.5,817.6 248.5,816.4 253.5,809.7 258.5,820.1 263.5,818.4 268.5,822.3 273.5,806.3 278.5,784.8 283.5,772.7 288.5,769.4 293.5,766.8 298.5,763.8 303.5,792.6 308.5,800.1 313.5,792.9 318.5,817.3 323.5,818.4 328.5,819.3 333.5,804.2 338.5,803.0 343.5,801.3 348.5,786.2 353.5,776.9 358.5,770.5 363.5,768.5 368.5,764.7 373.5,764.3 378.5,752.6 383.5,796.3 388.5,801.6 393.5,818.9 398.5,835.8 403.5,842.1 408.5,832.4 413.5,836.3 418.5,841.1 423.5,830.4 428.5,832.1 433.5,824.5 438.5,839.5 443.5,841.6 448.5,843.3 453.5,839.1 458.5,834.4 463.5,826.5 468.5,824.5 473.5,836.3 478.5,831.6 483.5,837.1 488.5,832.1 493.5,834.1 498.5,835.3 503.5,825.3 508.5,818.1 513.5,803.0 518.5,790.7 523.5,803.8 528.5,790.4 533.5,787.0 538.5,780.3 543.5,787.4 548.5,781.1 553.5,783.3 558.5,810.0 563.5,805.2 568.5,794.9 573.5,822.0 578.5,815.6 583.5,822.3 588.5,816.4 593.5,817.3 598.5,815.3 603.5,817.3 608.5,814.2 613.5,831.9 618.5,815.6 623.5,800.1 628.5,801.3 633.5,808.9 638.5,809.2 643.5,810.5 648.5,818.9 653.5,813.4 658.5,817.3 663.5,821.5 668.5,824.3 673.5,827.9 678.5,824.5 683.5,852.1 688.5,853.4 693.5,859.3 698.5,861.3 703.5,862.3 708.5,861.3 713.5,858.4 718.5,851.2 723.5,840.3 728.5,837.4 733.5,845.8 738.5,853.4 743.5,863.2 748.5,862.3 753.5,866.5 758.5,852.2 763.5,852.1 768.5,846.7 773.5,851.2 778.5,847.2 783.5,849.2 788.5,852.1 793.5,854.2 798.5,834.9 803.5,844.5 808.5,845.3 813.5,838.3 818.5,840.5 823.5,844.5 828.5,845.5 833.5,841.6 838.5,846.3 843.5,846.3 848.5,832.1 853.5,827.7 858.5,841.1 863.5,847.5 868.5,855.1 873.5,842.5 878.5,836.6 883.5,841.1 888.5,835.8 893.5,833.2 898.5,830.4 903.5,831.2 908.5,833.2 913.5,827.4 918.5,828.2 923.5,828.2 928.5,840.3 933.5,834.6 938.5,838.3 943.5,839.5 948.5,834.6 953.5,829.4 958.5,822.6 963.5,815.3 968.5,813.4 973.5,812.6 978.5,837.1 983.5,826.0 988.5,835.3 993.5,833.2 998.5,829.0 1003.5,827.0 1008.5,822.3 1013.5,821.5 1018.5,830.4 1023.5,834.4 1028.5,835.4 1033.5,798.4 1038.5,802.5 1043.5,813.9 1048.5,834.1 1053.5,821.5 1058.5,820.6 1063.5,829.0 1068.5,822.3 1073.5,825.7 1078.5,832.4 1083.5,842.1 1088.5,853.1 1093.5,845.5 1098.5,839.6 1103.5,847.0 1108.5,832.4 1113.5,818.9 1118.5,812.2 1123.5,806.3 1128.5,789.0 1133.5,777.3 1138.5,776.4 1143.5,774.4 1148.5,755.4 1153.5,783.2 1158.5,776.4 1163.5,815.3 1168.5,817.6 1173.5,817.6 1178.5,812.2 1183.5,812.2 1188.5,808.5 1193.5,803.5 1198.5,792.4 1203.5,785.8 1208.5,779.5 1213.5,795.1 1218.5,797.6 1223.5,822.0 1228.5,814.4 1233.5,813.4 1238.5,811.4 1243.5,817.3 1248.5,814.2 1253.5,814.2 1258.5,825.3 1263.5,819.5 1268.5,824.0 1273.5,833.6 1278.5,840.8 1283.5,849.2 1288.5,855.4 1293.5,851.2 1298.5,851.2 1303.5,854.2 1308.5,851.4 1313.5,855.4 1318.5,861.0 1323.5,852.2 1328.5,853.1 1333.5,850.5 1338.5,860.5 1343.5,863.2 1348.5,864.3 1353.5,847.2 1358.5,850.0 1363.5,845.3 1368.5,834.6 1373.5,826.5 1378.5,834.4 1383.5,833.2 1388.5,830.4 1393.5,837.1 1398.5,838.3" fill="none" stroke="#000" stroke-width="2" stroke-linejoin="round"/>
<rect x="1397" y="875" width="370.7" height="20" fill="#7b7b7b"/>
<path d="M3.5 874v6 M113.5 874v6 M173.5 874v6 M233.5 874v6 M293.5 874v6 M353.5 874v6 M413.5 874v6 M473.5 874v6 M533.5 874v6 M593.5 874v6 M653.5 874v6 M713.5 874v6 M773.5 874v6 M833.5 874v6 M893.5 874v6 M953.5 874v6 M1013.5 874v6 M1073.5 874v6 M1133.5 874v6 M1193.5 874v6 M1253.5 874v6 M1313.5 874v6 M1373.5 874v6 M1433.5 874v6" stroke="#ff0000" stroke-width="1" fill="none" shape-rendering="crispEdges"/>
<text x="2.8" y="894.7" font-family="DejaVu Sans Condensed, DejaVu Sans, sans-serif" font-size="19.2" fill="#000" stroke="#000" stroke-width="0.25" textLength="44.4" lengthAdjust="spacingAndGlyphs">2002</text>
<text x="112.8" y="894.7" font-family="DejaVu Sans Condensed, DejaVu Sans, sans-serif" font-size="19.2" fill="#000" stroke="#000" stroke-width="0.25" textLength="44.4" lengthAdjust="spacingAndGlyphs">2004</text>
<text x="172.8" y="894.7" font-family="DejaVu Sans Condensed, DejaVu Sans, sans-serif" font-size="19.2" fill="#000" stroke="#000" stroke-width="0.25" textLength="44.4" lengthAdjust="spacingAndGlyphs">2005</text>
<text x="232.8" y="894.7" font-family="DejaVu Sans Condensed, DejaVu Sans, sans-serif" font-size="19.2" fill="#000" stroke="#000" stroke-width="0.25" textLength="44.4" lengthAdjust="spacingAndGlyphs">2006</text>
<text x="292.8" y="894.7" font-family="DejaVu Sans Condensed, DejaVu Sans, sans-serif" font-size="19.2" fill="#000" stroke="#000" stroke-width="0.25" textLength="44.4" lengthAdjust="spacingAndGlyphs">2007</text>
<text x="352.8" y="894.7" font-family="DejaVu Sans Condensed, DejaVu Sans, sans-serif" font-size="19.2" fill="#000" stroke="#000" stroke-width="0.25" textLength="44.4" lengthAdjust="spacingAndGlyphs">2008</text>
<text x="412.8" y="894.7" font-family="DejaVu Sans Condensed, DejaVu Sans, sans-serif" font-size="19.2" fill="#000" stroke="#000" stroke-width="0.25" textLength="44.4" lengthAdjust="spacingAndGlyphs">2009</text>
<text x="472.8" y="894.7" font-family="DejaVu Sans Condensed, DejaVu Sans, sans-serif" font-size="19.2" fill="#000" stroke="#000" stroke-width="0.25" textLength="44.4" lengthAdjust="spacingAndGlyphs">2010</text>
<text x="532.8" y="894.7" font-family="DejaVu Sans Condensed, DejaVu Sans, sans-serif" font-size="19.2" fill="#000" stroke="#000" stroke-width="0.25" textLength="44.4" lengthAdjust="spacingAndGlyphs">2011</text>
<text x="592.8" y="894.7" font-family="DejaVu Sans Condensed, DejaVu Sans, sans-serif" font-size="19.2" fill="#000" stroke="#000" stroke-width="0.25" textLength="44.4" lengthAdjust="spacingAndGlyphs">2012</text>
<text x="652.8" y="894.7" font-family="DejaVu Sans Condensed, DejaVu Sans, sans-serif" font-size="19.2" fill="#000" stroke="#000" stroke-width="0.25" textLength="44.4" lengthAdjust="spacingAndGlyphs">2013</text>
<text x="712.8" y="894.7" font-family="DejaVu Sans Condensed, DejaVu Sans, sans-serif" font-size="19.2" fill="#000" stroke="#000" stroke-width="0.25" textLength="44.4" lengthAdjust="spacingAndGlyphs">2014</text>
<text x="772.8" y="894.7" font-family="DejaVu Sans Condensed, DejaVu Sans, sans-serif" font-size="19.2" fill="#000" stroke="#000" stroke-width="0.25" textLength="44.4" lengthAdjust="spacingAndGlyphs">2015</text>
<text x="832.8" y="894.7" font-family="DejaVu Sans Condensed, DejaVu Sans, sans-serif" font-size="19.2" fill="#000" stroke="#000" stroke-width="0.25" textLength="44.4" lengthAdjust="spacingAndGlyphs">2016</text>
<text x="892.8" y="894.7" font-family="DejaVu Sans Condensed, DejaVu Sans, sans-serif" font-size="19.2" fill="#000" stroke="#000" stroke-width="0.25" textLength="44.4" lengthAdjust="spacingAndGlyphs">2017</text>
<text x="952.8" y="894.7" font-family="DejaVu Sans Condensed, DejaVu Sans, sans-serif" font-size="19.2" fill="#000" stroke="#000" stroke-width="0.25" textLength="44.4" lengthAdjust="spacingAndGlyphs">2018</text>
<text x="1012.8" y="894.7" font-family="DejaVu Sans Condensed, DejaVu Sans, sans-serif" font-size="19.2" fill="#000" stroke="#000" stroke-width="0.25" textLength="44.4" lengthAdjust="spacingAndGlyphs">2019</text>
<text x="1072.8" y="894.7" font-family="DejaVu Sans Condensed, DejaVu Sans, sans-serif" font-size="19.2" fill="#000" stroke="#000" stroke-width="0.25" textLength="44.4" lengthAdjust="spacingAndGlyphs">2020</text>
<text x="1132.8" y="894.7" font-family="DejaVu Sans Condensed, DejaVu Sans, sans-serif" font-size="19.2" fill="#000" stroke="#000" stroke-width="0.25" textLength="44.4" lengthAdjust="spacingAndGlyphs">2021</text>
<text x="1192.8" y="894.7" font-family="DejaVu Sans Condensed, DejaVu Sans, sans-serif" font-size="19.2" fill="#000" stroke="#000" stroke-width="0.25" textLength="44.4" lengthAdjust="spacingAndGlyphs">2022</text>
<text x="1252.8" y="894.7" font-family="DejaVu Sans Condensed, DejaVu Sans, sans-serif" font-size="19.2" fill="#000" stroke="#000" stroke-width="0.25" textLength="44.4" lengthAdjust="spacingAndGlyphs">2023</text>
<text x="1312.8" y="894.7" font-family="DejaVu Sans Condensed, DejaVu Sans, sans-serif" font-size="19.2" fill="#000" stroke="#000" stroke-width="0.25" textLength="44.4" lengthAdjust="spacingAndGlyphs">2024</text>
<text x="1372.8" y="894.7" font-family="DejaVu Sans Condensed, DejaVu Sans, sans-serif" font-size="19.2" fill="#000" stroke="#000" stroke-width="0.25" textLength="44.4" lengthAdjust="spacingAndGlyphs">2025</text>
<text x="1432.8" y="894.7" font-family="DejaVu Sans Condensed, DejaVu Sans, sans-serif" font-size="19.2" fill="#000" stroke="#000" stroke-width="0.25" textLength="44.4" lengthAdjust="spacingAndGlyphs">2026</text>
<rect x="1772.5" y="876.5" width="18" height="17.5" rx="2" fill="#fff" stroke="#b4b4b4" stroke-width="1"/>
<rect x="1793.5" y="876.5" width="18" height="17.5" rx="2" fill="#fff" stroke="#b4b4b4" stroke-width="1"/>
<rect x="1814.5" y="876.5" width="18" height="17.5" rx="2" fill="#fff" stroke="#b4b4b4" stroke-width="1"/>
<rect x="1835.5" y="876.5" width="18" height="17.5" rx="2" fill="#fff" stroke="#b4b4b4" stroke-width="1"/>
<rect x="1856.5" y="876.5" width="18" height="17.5" rx="2" fill="#fff" stroke="#b4b4b4" stroke-width="1"/>
<path d="M1776.3 890.7V878.7" stroke="#2b3f6e" stroke-width="1.2" fill="none"/><polygon points="1774.3,881.2 1776.3,877.7 1778.3,881.2" fill="#2b3f6e"/>
<polygon points="1777.4,884.7 1782.2,879.9000000000001 1787.0,884.7 1782.2,889.5" fill="#2b3f6e"/>
<path d="M1797.3 890.7V878.7" stroke="#2b3f6e" stroke-width="1.2" fill="none"/><polygon points="1795.3,881.2 1797.3,877.7 1799.3,881.2" fill="#2b3f6e"/>
<polygon points="1798.4,884.7 1803.2,879.9000000000001 1808.0,884.7 1803.2,889.5" fill="#2b3f6e"/>
<circle cx="1803.5" cy="884.7" r="1.7" fill="none" stroke="#fff" stroke-width="0.8"/>
<polygon points="1816.5,884.7 1822.9,878.3000000000001 1829.3000000000002,884.7 1822.9,891.1" fill="#2b3f6e"/>
<path d="M1820.3000000000002 882.1L1825.5 887.3000000000001M1825.5 882.1L1820.3000000000002 887.3000000000001" stroke="#fff" stroke-width="1.1" fill="none"/>
<polygon points="1837.5,884.7 1843.9,878.3000000000001 1850.3000000000002,884.7 1843.9,891.1" fill="#2b3f6e"/>
<polygon points="1843.9,878.3000000000001 1850.3,884.7 1843.9,891.1" fill="#c82020"/>
<path d="M1841.3000000000002 882.1L1846.5 887.3000000000001M1846.5 882.1L1841.3000000000002 887.3000000000001" stroke="#fff" stroke-width="1.1" fill="none"/>
<polygon points="1858.5,884.7 1864.9,878.3000000000001 1871.3000000000002,884.7 1864.9,891.1" fill="#c82020"/>
<path d="M1862.3000000000002 882.1L1867.5 887.3000000000001M1867.5 882.1L1862.3000000000002 887.3000000000001" stroke="#fff" stroke-width="1.1" fill="none"/>
<rect x="1" y="1" width="206" height="16" fill="#d6d6fa" fill-opacity="0.95"/>
<rect x="1" y="1" width="206" height="1" fill="#b8b8e6" fill-opacity="0.8"/>
<rect x="1" y="1" width="1" height="15" fill="#b8b8e6" fill-opacity="0.8"/>
<rect x="1" y="15.7" width="206" height="1.5" fill="#3434f0"/>
<rect x="205.6" y="1" width="1.4" height="16.2" fill="#3434f0"/>
<rect x="1" y="17.2" width="207" height="0.7" fill="#9a9a9a" fill-opacity="0.6"/>
<text x="6.0" y="13.0" font-family="DejaVu Sans Condensed, DejaVu Sans, sans-serif" font-weight="bold" font-size="11.3" fill="#a4b0e0" textLength="75.5" lengthAdjust="spacingAndGlyphs">ZC ~ Monthly</text>
<text x="4.6" y="13.0" font-family="DejaVu Sans Condensed, DejaVu Sans, sans-serif" font-weight="bold" font-size="11.3" fill="#dc0000" textLength="75.5" lengthAdjust="spacingAndGlyphs">ZC ~ Monthly</text>
<polygon points="191.3,6.6 203.7,6.6 197.5,12.6" fill="#3232ff"/>
<path d="M0 0.5H1904 M0 896.5H1904 M1903.5 0V897 M0.5 0V897" stroke="#2a2a2a" stroke-width="1" fill="none" shape-rendering="crispEdges"/>
</svg>
</body></html>
